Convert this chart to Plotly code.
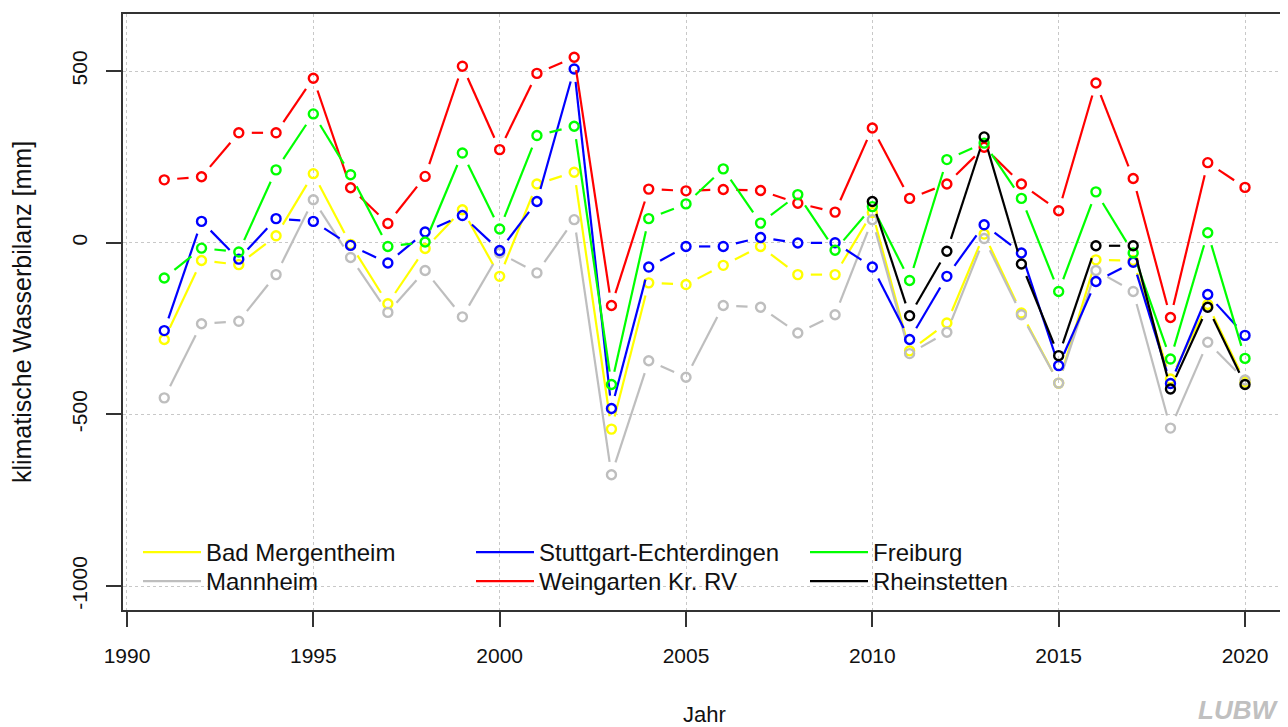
import plotly.graph_objects as go
import math

years = list(range(1991, 2021))
years_rh = list(range(2010, 2021))

bad_mergentheim = [-282, -52, -64, 20, 201, -5, -178, -17, 96, -98,
                   171, 205, -543, -117, -122, -66, -11, -93, -93, 88,
                   -315, -234, 25, -205, -409, -50, -52, -397, -180, -405]
mannheim = [-452, -236, -229, -93, 125, -43, -203, -81, -216, -30,
            -88, 67, -676, -344, -392, -183, -188, -263, -210, 67,
            -323, -261, 12, -210, -409, -81, -142, -540, -290, -400]
stuttgart = [-256, 62, -48, 70, 62, -8, -59, 31, 79, -23,
             120, 506, -483, -71, -11, -11, 15, -1, 0, -71,
             -282, -98, 52, -30, -358, -113, -57, -410, -151, -270]
weingarten = [183, 192, 320, 320, 479, 160, 56, 193, 514, 271,
              493, 540, -183, 156, 151, 155, 152, 115, 89, 334,
              129, 171, 278, 171, 93, 465, 187, -218, 233, 161]
freiburg = [-103, -16, -27, 212, 375, 198, -11, 2, 261, 40,
            312, 339, -413, 70, 113, 215, 57, 140, -22, 105,
            -110, 242, 290, 129, -142, 148, -30, -339, 29, -337]
rheinstetten = [120, -213, -25, 308, -62, -329, -9, -9, -426, -188, -413]

# (name, x, y, colour, legend id, legend column, legend row)
series = [
    ("Bad Mergentheim", years, bad_mergentheim, "#FFFF00", "legend", 0, 0),
    ("Mannheim", years, mannheim, "#BEBEBE", "legend2", 0, 1),
    ("Stuttgart-Echterdingen", years, stuttgart, "#0000FF", "legend3", 1, 0),
    ("Weingarten Kr. RV", years, weingarten, "#FF0000", "legend4", 1, 1),
    ("Freiburg", years, freiburg, "#00FF00", "legend5", 2, 0),
    ("Rheinstetten", years_rh, rheinstetten, "#000000", "legend6", 2, 1),
]

x_ticks = [1990, 1995, 2000, 2005, 2010, 2015, 2020]
y_ticks = [500, 0, -500, -1000]

# layout geometry (page body has an 8px margin)
W_FIG, H_FIG = 1280, 719
M_L, M_R, M_T, M_B = 115, 2, 6, 117
PW, PH = W_FIG - M_L - M_R, H_FIG - M_T - M_B
XR = [1989.893, 2021.10]
YR = [-1069.8, 666.0]
GAP = 13.0


def to_px(x, y):
    px = (x - XR[0]) / (XR[1] - XR[0]) * PW
    py = (YR[1] - y) / (YR[1] - YR[0]) * PH
    return px, py


def to_data(px, py):
    x = XR[0] + px / PW * (XR[1] - XR[0])
    y = YR[1] - py / PH * (YR[1] - YR[0])
    return x, y


def gapped(xs, ys):
    gx, gy = [], []
    for i in range(len(xs) - 1):
        p1 = to_px(xs[i], ys[i])
        p2 = to_px(xs[i + 1], ys[i + 1])
        dx, dy = p2[0] - p1[0], p2[1] - p1[1]
        d = math.hypot(dx, dy)
        if d <= 2 * GAP:
            continue
        ux, uy = dx / d, dy / d
        a = to_data(p1[0] + ux * GAP, p1[1] + uy * GAP)
        b = to_data(p2[0] - ux * GAP, p2[1] - uy * GAP)
        gx += [a[0], b[0], None]
        gy += [a[1], b[1], None]
    return gx, gy


font_family = "Liberation Sans, Arial, sans-serif"

fig = go.Figure()
legends = {}
col_x = [138, 471, 805]      # reference-pixel x of legend columns
row_top = [530, 559]         # reference-pixel y of legend rows (top)
for name, xs, ys, col, lg, c, r in series:
    gx, gy = gapped(xs, ys)
    fig.add_trace(go.Scatter(
        x=gx, y=gy, mode="lines", name=name, legend=lg, connectgaps=False,
        line=dict(color=col, width=2.2), hoverinfo="skip", legendgroup=name))
    fig.add_trace(go.Scatter(
        x=xs, y=ys, mode="markers", name=name, showlegend=False, legendgroup=name,
        marker=dict(symbol="circle-open", size=9, color=col, line=dict(width=2.4, color=col))))
    legends[lg] = dict(orientation="v", bgcolor="rgba(0,0,0,0)", borderwidth=0,
                       font=dict(family=font_family, size=24, color="#111111"),
                       xanchor="left", yanchor="top", itemwidth=58,
                       x=(col_x[c] - 123) / PW, y=(610 - row_top[r]) / PH)

fig.update_layout(
    width=W_FIG, height=H_FIG,
    margin=dict(l=M_L, r=M_R, t=M_T, b=M_B),
    paper_bgcolor="white", plot_bgcolor="white",
    font=dict(family=font_family, color="#111111"),
    xaxis=dict(range=XR, tickmode="array", tickvals=x_ticks, ticktext=[str(v) for v in x_ticks],
               showgrid=True, gridcolor="#C8C8C8", griddash="dot", gridwidth=1,
               zeroline=False, showline=True, linecolor="#333333", linewidth=2, mirror=True,
               ticks="outside", ticklen=15, tickwidth=1.5, tickcolor="#333333",
               tickfont=dict(size=21, color="#111111"), ticklabelstandoff=11,
               title=dict(text="Jahr", font=dict(size=22, color="#111111"), standoff=40),
               automargin=False),
    yaxis=dict(range=YR, tickmode="array", tickvals=y_ticks, ticktext=[str(v) for v in y_ticks],
               showgrid=True, gridcolor="#C8C8C8", griddash="dot", gridwidth=1,
               zeroline=False, showline=True, linecolor="#333333", linewidth=2, mirror=True,
               ticks="outside", ticklen=15, tickwidth=1.5, tickcolor="#333333",
               tickangle=-90, tickfont=dict(size=21, color="#111111"), ticklabelstandoff=11,
               title=dict(text="klimatische Wasserbilanz [mm]", font=dict(size=25, color="#111111"),
                          standoff=30),
               automargin=False),
    showlegend=True,
    annotations=[dict(text="LUBW", xref="paper", yref="paper", x=1.0, y=(610 - 693) / PH,
                      xanchor="right", yanchor="top", showarrow=False, xshift=-6,
                      font=dict(size=26, color="#C0C0C0", style="italic", weight="bold",
                                family=font_family))],
    **legends,
)

fig.write_html("out.html")
